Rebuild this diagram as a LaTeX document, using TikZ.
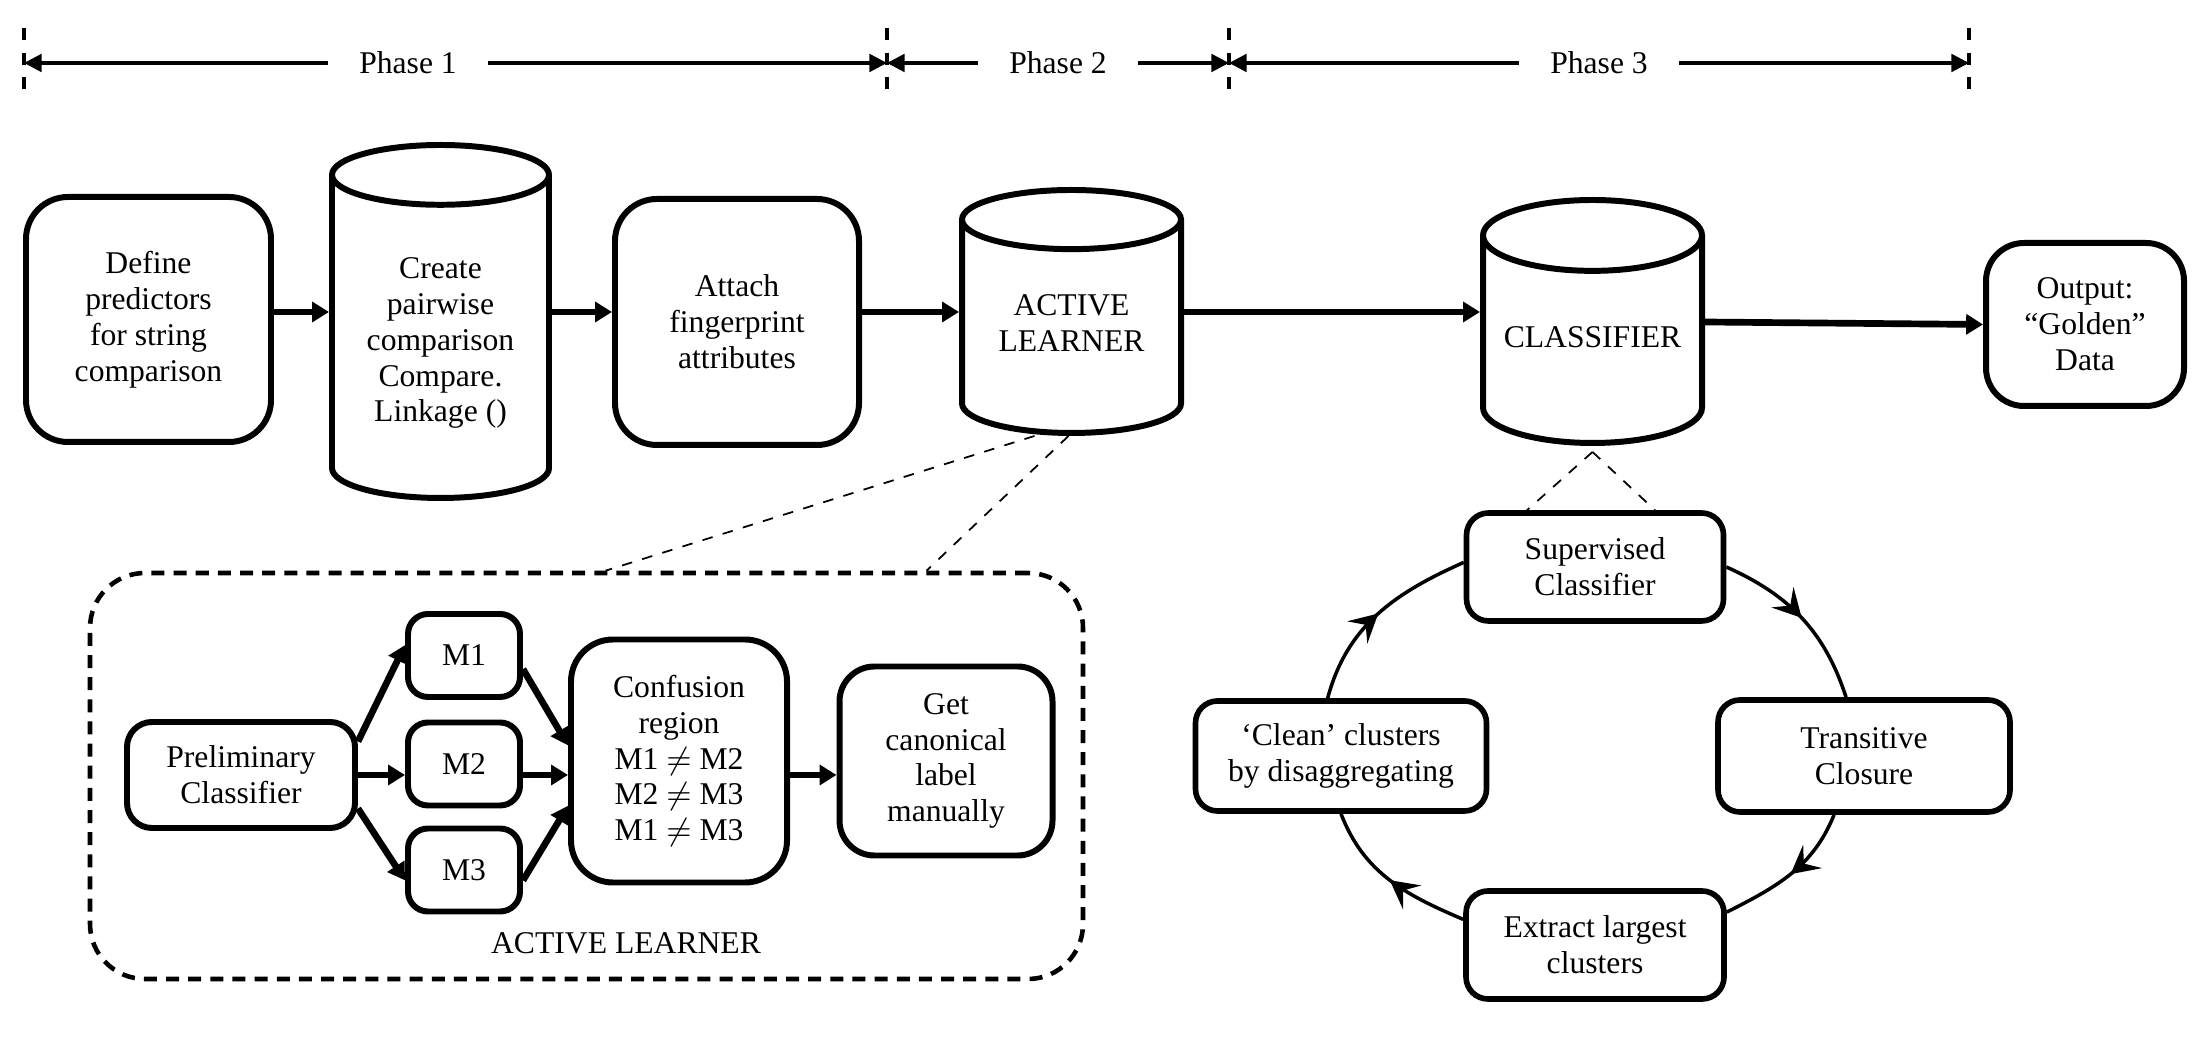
\documentclass[tikz,border=0pt]{standalone}
\usepackage{fontspec}
\setmainfont{Liberation Serif}
\usepackage{tikz}
\usetikzlibrary{arrows.meta,shapes.geometric,decorations.markings,calc}

\begin{document}
\begin{tikzpicture}[
  every node/.style={font=\fontsize{9pt}{10.2pt}\selectfont},
  procbox/.style={draw,line width=1.7pt,rounded corners=4.2mm,align=center,inner sep=2pt},
  store/.style={draw,line width=1.7pt,cylinder,shape border rotate=90,aspect=0.37,align=center,inner sep=2pt},
  mbox/.style={draw,line width=1.7pt,rounded corners=2mm,minimum width=1.12cm,minimum height=0.83cm},
  flow/.style={line width=1.9pt,-{Triangle[length=4.8pt,width=5.6pt]}},
  zoomline/.style={dashed,line width=0.5pt},
  alframe/.style={draw,line width=1.3pt,dash pattern=on 3.7pt off 2.6pt,rounded corners=5.5mm},
  ringbox/.style={draw,line width=1.6pt,rounded corners=2.2mm,align=center,fill=white},
  ringarc/.style={line width=1pt,postaction={decorate},
    decoration={markings,mark=at position 0.5 with {\arrow{Stealth[length=8pt,width=8.5pt,inset=3.2pt]}}}},
  phasearrow/.style={line width=0.9pt,{Triangle[length=5pt,width=5pt]}-{Triangle[length=5pt,width=5pt]}},
  phaselabel/.style={fill=white,minimum width=1.6cm},
  phasetick/.style={line width=1pt,dash pattern=on 3.4pt off 3.6pt}
]
\useasboundingbox (0,0) rectangle (22.12,10.6);

% phase ruler
\foreach \x/\n in {0.24/t0,8.87/t1,12.29/t2,19.69/t3}{
  \coordinate (\n) at (\x,9.97);
  \draw[phasetick] (\x,10.32) -- (\x,9.61);
}
\draw[phasearrow] (t0) -- node[phaselabel,pos=.445] {Phase 1} (t1);
\draw[phasearrow] (t1) -- node[phaselabel] {Phase 2} (t2);
\draw[phasearrow] (t2) -- node[phaselabel] {Phase 3} (t3);

% main pipeline
\coordinate (lvl) at (0,7.48);
\node[procbox,minimum width=2.45cm,minimum height=2.45cm] (def) at (1.485,7.405) {Define\\predictors\\for string\\comparison};
\node[store,minimum width=2.17cm,minimum height=3.53cm,anchor=shape center] (cre) at (4.405,7.385) {Create\\pairwise\\comparison\\Compare.\\Linkage ()};
\node[procbox,minimum width=2.44cm,minimum height=2.46cm] (att) at (7.37,7.38) {Attach\\fingerprint\\attributes};
\node[store,minimum width=2.19cm,minimum height=2.43cm,text depth=2mm,anchor=shape center] (act) at (10.715,7.485) {ACTIVE\\LEARNER};
\node[store,minimum width=2.19cm,minimum height=2.43cm,text depth=2mm,anchor=shape center] (cls) at (15.925,7.385) {CLASSIFIER};
\node[procbox,rounded corners=3.8mm,minimum width=1.98cm,minimum height=1.63cm] (out) at (20.85,7.355) {Output:\\“Golden”\\Data};

\draw[flow] (def.east |- lvl) -- (cre.west |- lvl);
\draw[flow] (cre.east |- lvl) -- (att.west |- lvl);
\draw[flow] (att.east |- lvl) -- (act.west |- lvl);
\draw[flow] (act.east |- lvl) -- (cls.west |- lvl);
\draw[flow] (cls.east |- 0,7.38) -- (out.west);

% active learner detail
\node[alframe,minimum width=9.93cm,minimum height=4.06cm] (alf) at (5.865,2.84) {};
\node (allabel) at (6.26,1.17) {ACTIVE LEARNER};
\node[procbox,rounded corners=2.5mm,minimum width=2.28cm,minimum height=1.06cm] (pre) at (2.41,2.85) {Preliminary\\Classifier};
\node[mbox] (m1) at (4.64,4.045) {M1};
\node[mbox] (m2) at (4.64,2.96) {M2};
\node[mbox] (m3) at (4.64,1.90) {M3};
\node[procbox,minimum width=2.16cm,minimum height=2.43cm] (conf) at (6.79,2.99) {Confusion\\region\\M1 $\neq$ M2\\M2 $\neq$ M3\\M1 $\neq$ M3};
\node[procbox,rounded corners=3.5mm,minimum width=2.13cm,minimum height=1.89cm] (get) at (9.46,2.99) {Get\\canonical\\label\\manually};

\draw[flow] (pre.16) -- (m1.170);
\draw[flow] (pre.east) -- (pre.east -| m2.west);
\draw[flow] (pre.-16) -- (m3.190);
\draw[flow] (m1.-13) -- (conf.172);
\draw[flow] (m2.east |- pre.east) -- (conf.west |- pre.east);
\draw[flow] (m3.-10) -- (conf.202);
\draw[flow] (conf.east |- pre.east) -- (get.west |- pre.east);

\draw[zoomline] ([xshift=-3.7mm]act.south) -- ([xshift=1.9mm]alf.north);
\draw[zoomline] ([xshift=-0.3mm]act.south) -- ([xshift=34mm]alf.north);

% classifier loop
\node[ringbox,minimum width=2.57cm,minimum height=1.08cm] (sup) at (15.95,4.93) {Supervised\\Classifier};
\node[ringbox,minimum width=2.92cm,minimum height=1.12cm] (tra) at (18.64,3.04) {Transitive\\Closure};
\node[ringbox,minimum width=2.58cm,minimum height=1.08cm] (ext) at (15.95,1.15) {Extract largest\\clusters};
\node[ringbox,minimum width=2.91cm,minimum height=1.10cm] (cln) at (13.41,3.04) {‘Clean’ clusters\\by disaggregating};

\draw[ringarc] (sup.east) to[out=-24,in=108] (tra.107);
\draw[ringarc] (tra.243) to[out=248,in=27] (ext.14);
\draw[ringarc] (ext.169) to[out=157,in=-69] (cln.south);
\draw[ringarc] (cln.103) to[out=75,in=204] (sup.178);

\draw[zoomline] ([yshift=-0.6mm]cls.south) -- ([xshift=-6.8mm]sup.north);
\draw[zoomline] ([yshift=-0.6mm]cls.south) -- ([xshift=6mm]sup.north);
\end{tikzpicture}
\end{document}
